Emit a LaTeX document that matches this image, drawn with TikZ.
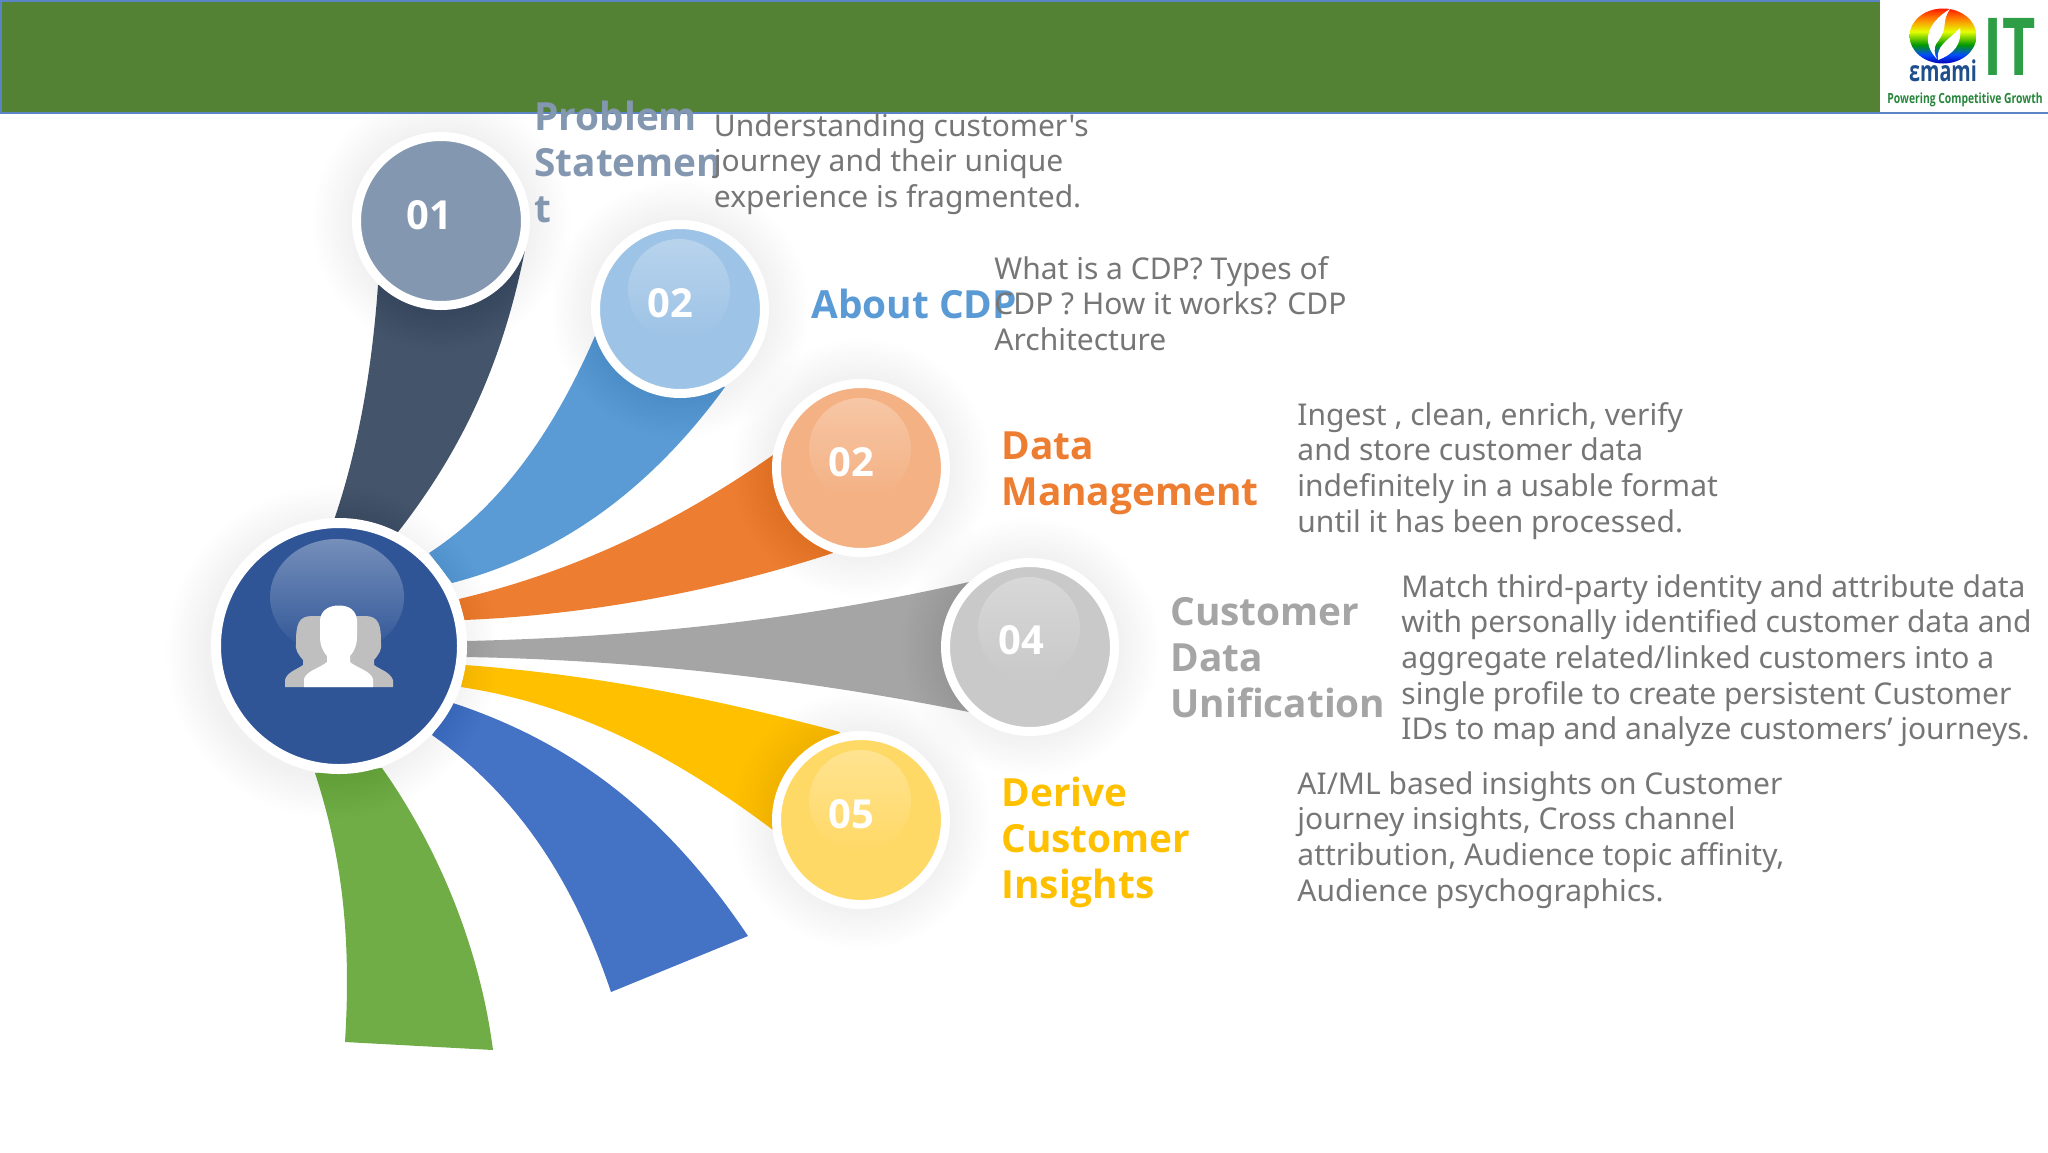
\documentclass[tikz,border=0pt]{standalone}
\usepackage{fontspec}
\setmainfont{Open Sans}
\newfontfamily\bodyf{Noto Sans}
\usetikzlibrary{fadings}
\definecolor{hdr}{HTML}{548235}
\definecolor{hline}{HTML}{5B84C4}
\definecolor{bodyc}{HTML}{767676}
\definecolor{dark}{HTML}{44546A}
\definecolor{sky}{HTML}{5B9BD5}
\definecolor{org}{HTML}{ED7D31}
\definecolor{gry}{HTML}{A5A5A5}
\definecolor{gold}{HTML}{FFC000}
\definecolor{roy}{HTML}{4472C4}
\definecolor{grn}{HTML}{70AD47}
\definecolor{navy}{HTML}{2F5597}
\definecolor{t1}{HTML}{8497B0}
\definecolor{d1}{HTML}{8497B0}
\definecolor{d2}{HTML}{9DC3E6}
\definecolor{d3}{HTML}{F4B183}
\definecolor{d4}{HTML}{C9C9C9}
\definecolor{d5}{HTML}{FFD966}
\definecolor{itgreen}{HTML}{2E9E46}
\definecolor{emblue}{HTML}{1F4E8C}
\pgfdeclareverticalshading{rainbowlogo}{100bp}{
  color(0bp)=(blue!70!black); color(25bp)=(blue!70!black); color(33bp)=(blue!70!cyan);
  color(42bp)=(green!60!black); color(54bp)=(yellow!90!green); color(66bp)=(orange); color(75bp)=(red!80!orange); color(100bp)=(red!80!orange)}
\tikzset{
  ttl/.style={anchor=base west,inner sep=0pt,font=\bfseries\fontsize{19.4}{23}\selectfont},
  txt/.style={anchor=base west,inner sep=0pt,text=bodyc,font=\bodyf\fontsize{15}{18}\selectfont},
  num/.style={anchor=base,inner sep=0pt,text=white,font=\bfseries\fontsize{20}{24}\selectfont},
  disc/.style={circle,draw=white,line width=4.5pt,minimum size=84.5pt,inner sep=0pt},
  gloss/.style={fill=white,fill opacity=.28,path fading=south},
  hubgloss/.style={fill=white,fill opacity=.34,path fading=south},
}
\newcommand{\softshadow}[3]{% x,y,radius
  \foreach \k in {1,...,14}{\fill[black,opacity=.0045] (#1,#2) circle ({#3+3*\k});}}
\begin{document}
\begin{tikzpicture}[x=0.5pt,y=-0.5pt]
\useasboundingbox (0,0) rectangle (2048,1152);
% ribbons
\fill[dark] (334,520) .. controls (358,450) and (372,370) .. (378,285) -- (525,250) .. controls (505,350) and (470,440) .. (398,532) -- cycle;
\fill[sky] (429,553) .. controls (495,510) and (550,440) .. (595,336) -- (725,387) .. controls (650,490) and (560,555) .. (452,583) -- cycle;
\fill[org] (459,599) .. controls (580,570) and (680,520) .. (773,455) -- (833,553) .. controls (720,590) and (590,615) .. (464,620) -- cycle;
\fill[gry] (466,641) .. controls (640,637) and (800,620) .. (969,582) -- (969,712) .. controls (810,680) and (640,660) .. (466,657) -- cycle;
\fill[gold] (465,665) .. controls (600,675) and (720,700) .. (840,732) -- (773,830) .. controls (680,760) and (580,705) .. (461,687) -- cycle;
\fill[roy] (453,703) .. controls (580,745) and (670,820) .. (748,936) -- (611,992) .. controls (570,870) and (510,790) .. (432,735) -- cycle;
\fill[grn] (382,768) .. controls (440,850) and (480,950) .. (493,1050) -- (345,1042) .. controls (352,930) and (340,850) .. (315,773) -- cycle;
% shadows
\softshadow{332}{652}{124}
\softshadow{441}{221}{87}
\softshadow{680}{309}{87}
\softshadow{861}{468}{87}
\softshadow{1030}{647}{87}
\softshadow{861}{820}{87}
% header
\fill[hdr] (0,0) rectangle (1880,113);
\fill[white] (1880,0) rectangle (2048,113);
\draw[hline,line width=1pt] (0,.5) -- (1880,.5);
\draw[hline,line width=1pt] (.5,0) -- (.5,113);
\draw[hline,line width=1pt] (0,113) -- (2048,113);
% logo
\shade[shading=rainbowlogo] (1943,36) ellipse (33.5 and 27.5);
\fill[white] (1937,59) .. controls (1922,44) and (1925,24) .. (1950,9) .. controls (1940,24) and (1950,26) .. (1936,44) .. controls (1934,48) and (1934,54) .. (1937,59) -- cycle;
\fill[white] (1938,60) .. controls (1936,46) and (1946,42) .. (1960,28) .. controls (1962,44) and (1954,54) .. (1938,60) -- cycle;
\node[anchor=base,inner sep=0pt,text=emblue,font=\bfseries\fontsize{13}{13}\selectfont] (emami) at (1943,81) {\scalebox{.76}[1.1]{εmami}};
\node[anchor=base,inner sep=0pt,text=itgreen,font=\bfseries\fontsize{40}{40}\selectfont] (it) at (2010,75) {\scalebox{.72}[1]{IT}};
\node[anchor=base,inner sep=0pt,text=itgreen!85!black,font=\bfseries\fontsize{7}{8}\selectfont] (tag) at (1965,103) {\scalebox{.74}[1]{Powering Competitive Growth}};
% discs
\node[disc,fill=d1] (c1) at (441,221) {};
\node[disc,fill=d2] (c2) at (680,309) {};
\node[disc,fill=d3] (c3) at (861,468) {};
\node[disc,fill=d4] (c4) at (1030,647) {};
\node[disc,fill=d5] (c5) at (861,820) {};
\node[disc,fill=navy,minimum size=123pt,line width=5pt] (hub) at (339,646) {};
% gloss
\fill[gloss] (679,290) ellipse (51 and 51);
\fill[gloss] (860,449) ellipse (51 and 51);
\fill[gloss] (1029,628) ellipse (51 and 51);
\fill[gloss] (860,801) ellipse (51 and 51);
\fill[hubgloss] (337,597) ellipse (67 and 58);
% people icon
\fill[white!75!black] (285,687) -- (285,680) .. controls (287,672) and (296,670) .. (303,665) -- (303,660) .. controls (298,654) and (295,650) .. (296,643) .. controls (296,625) and (298,616) .. (312,616) -- (365,616) .. controls (379,616) and (381,625) .. (381,643) .. controls (382,650) and (379,654) .. (374,660) -- (374,665) .. controls (381,670) and (390,672) .. (393,680) -- (393,687) -- cycle;
\fill[white] (304,687) -- (304,679) .. controls (306,671) and (320,668) .. (327,662) -- (327,656) .. controls (322,650) and (320,645) .. (320,636) -- (320,620) .. controls (321,610) and (329,605.5) .. (339,605.5) .. controls (349,605.5) and (356,610) .. (357,620) -- (357,636) .. controls (357,645) and (355,650) .. (350,656) -- (350,662) .. controls (357,668) and (371,671) .. (373,679) -- (373,687) -- cycle;
% numbers
\node[num] (n1) at (429,229) {01};
\node[num] (n2) at (670,317) {02};
\node[num] (n3) at (851,476) {02};
\node[num] (n4) at (1021,654) {04};
\node[num] (n5) at (851,828) {05};
% titles
\node[ttl,text=t1] (t1n) at (534,130) {\vtop{\baselineskip=23pt\lineskiplimit=-100pt\hbox{Problem}\hbox{Statemen}\hbox{t}}};
\node[ttl,text=sky] (t2n) at (811,318) {About CDP};
\node[ttl,text=org] (t3n) at (1001,459) {\vtop{\baselineskip=23pt\lineskiplimit=-100pt\hbox{Data}\hbox{Management}}};
\node[ttl,text=gry] (t4n) at (1170,625) {\vtop{\baselineskip=23pt\lineskiplimit=-100pt\hbox{Customer}\hbox{Data}\hbox{Unification}}};
\node[ttl,text=gold] (t5n) at (1001,806) {\vtop{\baselineskip=23pt\lineskiplimit=-100pt\hbox{Derive}\hbox{Customer}\hbox{Insights}}};
% bodies
\node[txt] (b1) at (713.5,136) {\vtop{\baselineskip=17.85pt\lineskiplimit=-100pt\hbox{Understanding customer's}\hbox{journey and their unique}\hbox{experience is fragmented.}}};
\node[txt] (b2) at (994,279) {\vtop{\baselineskip=17.85pt\lineskiplimit=-100pt\hbox{What is a CDP? Types of}\hbox{CDP ? How it works? CDP}\hbox{Architecture}}};
\node[txt] (b3) at (1297,425) {\vtop{\baselineskip=17.85pt\lineskiplimit=-100pt\hbox{Ingest , clean, enrich, verify}\hbox{and store customer data}\hbox{indefinitely in a usable format}\hbox{until it has been processed.}}};
\node[txt] (b4) at (1401,597) {\vtop{\baselineskip=17.85pt\lineskiplimit=-100pt\hbox{Match third-party identity and attribute data}\hbox{with personally identified customer data and}\hbox{aggregate related/linked customers into a}\hbox{single profile to create persistent Customer}\hbox{IDs to map and analyze customers’ journeys.}}};
\node[txt] (b5) at (1297,794) {\vtop{\baselineskip=17.85pt\lineskiplimit=-100pt\hbox{AI/ML based insights on Customer}\hbox{journey insights, Cross channel}\hbox{attribution, Audience topic affinity,}\hbox{Audience psychographics.}}};
\end{tikzpicture}
\end{document}
